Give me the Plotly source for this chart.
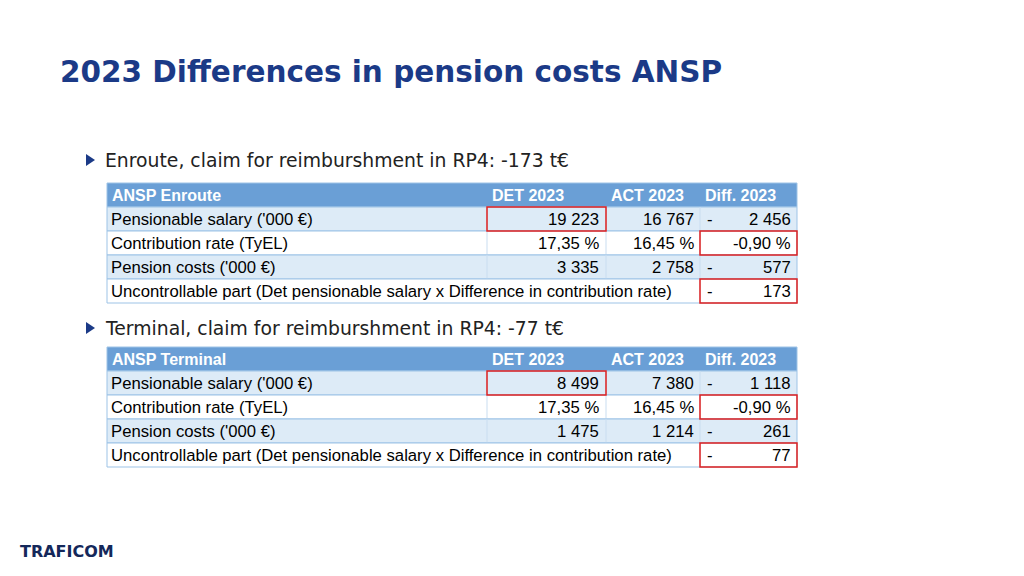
import plotly.graph_objects as go

title = "2023 Differences in pension costs ANSP"
sections = ["Enroute, claim for reimburshment in RP4: -173 t€",
            "Terminal, claim for reimburshment in RP4: -77 t€"]
headers = [["ANSP Enroute", "DET 2023", "ACT 2023", "Diff. 2023"],
           ["ANSP Terminal", "DET 2023", "ACT 2023", "Diff. 2023"]]
row_labels = ["Pensionable salary ('000 €)", "Contribution rate (TyEL)", "Pension costs ('000 €)",
              "Uncontrollable part (Det pensionable salary x Difference in contribution rate)"]
det = [["19 223", "17,35 %", "3 335", ""], ["8 499", "17,35 %", "1 475", ""]]
act = [["16 767", "16,45 %", "2 758", ""], ["7 380", "16,45 %", "1 214", ""]]
diff_sign = [["-", "", "-", "-"], ["-", "", "-", "-"]]
diff_val = [["2 456", "-0,90 %", "577", "173"], ["1 118", "-0,90 %", "261", "77"]]

fig = go.Figure()
shapes, ann = [], []
FONT = "Liberation Sans Narrow, Liberation Sans, Arial"
X0, X1, X2, X3, X4 = 107, 487, 606, 700, 797
RH = 24

def txt(x, y, s, size=16.7, color="#000", xa="left", bold=False, family=FONT):
    ann.append(dict(x=x, y=y, text=f"<b>{s}</b>" if bold else s, showarrow=False,
                    xanchor=xa, yanchor="middle", font=dict(size=size, color=color, family=family)))

txt(58, 72, title, size=29.5, color="#1b3a87", bold=True, family="DejaVu Sans, Verdana")

for t, (ytext, ytop) in enumerate([(160, 183), (328, 347)]):
    shapes.append(dict(type="path", path=f"M 86 {ytext-6} L 95 {ytext} L 86 {ytext+6} Z",
                       fillcolor="#1b3a87", line=dict(width=0)))
    txt(103, ytext, sections[t], size=18.8, color="#222", family="DejaVu Sans, Verdana")
    shapes.append(dict(type="rect", x0=X0, x1=X4, y0=ytop, y1=ytop+RH, fillcolor="#6a9fd6",
                       line=dict(color="#9dc3e6", width=1)))
    hy = ytop + RH/2
    txt(X0+3, hy, headers[t][0], color="white", bold=True, size=16)
    txt(X1+3, hy, headers[t][1], color="white", bold=True, size=16)
    txt(X2+3, hy, headers[t][2], color="white", bold=True, size=16)
    txt(X3+3, hy, headers[t][3], color="white", bold=True, size=16)
    for r in range(4):
        y0 = ytop + RH*(r+1)
        fill = "#ddebf7" if r % 2 == 0 else "white"
        shapes.append(dict(type="rect", x0=X0, x1=X4, y0=y0, y1=y0+RH, fillcolor=fill,
                           line=dict(color="#9dc3e6", width=1)))
        cols = [X1, X2, X3] if r < 3 else [X3]
        for cx in cols:
            shapes.append(dict(type="line", x0=cx, x1=cx, y0=y0, y1=y0+RH,
                               line=dict(color="#c9ddf0", width=1)))
        cy = y0 + RH/2
        txt(X0+2, cy, row_labels[r])
        if det[t][r]:
            txt(X2-5, cy, det[t][r], xa="right")
        if act[t][r]:
            txt(X3-4, cy, act[t][r], xa="right")
        if diff_sign[t][r]:
            txt(X3+5, cy, diff_sign[t][r])
        txt(X4-4, cy, diff_val[t][r], xa="right")
    red = dict(color="#e02020", width=1.5)
    y1 = ytop + RH
    shapes.append(dict(type="rect", x0=X1, x1=X2, y0=y1, y1=y1+RH, line=red))
    shapes.append(dict(type="rect", x0=X3, x1=X4, y0=y1+RH, y1=y1+2*RH, line=red))
    shapes.append(dict(type="rect", x0=X3, x1=X4, y0=y1+3*RH, y1=y1+4*RH, line=red))

txt(18, 551, "TRAFICOM", size=16, color="#14285a", bold=True, family="DejaVu Sans, Arial")

fig.update_layout(width=1024, height=576, margin=dict(l=0, r=0, t=0, b=0),
                  paper_bgcolor="white", plot_bgcolor="white", shapes=shapes, annotations=ann,
                  xaxis=dict(range=[8, 1032], visible=False, fixedrange=True),
                  yaxis=dict(range=[584, 8], visible=False, fixedrange=True),
                  showlegend=False)
fig.write_html("out.html")
